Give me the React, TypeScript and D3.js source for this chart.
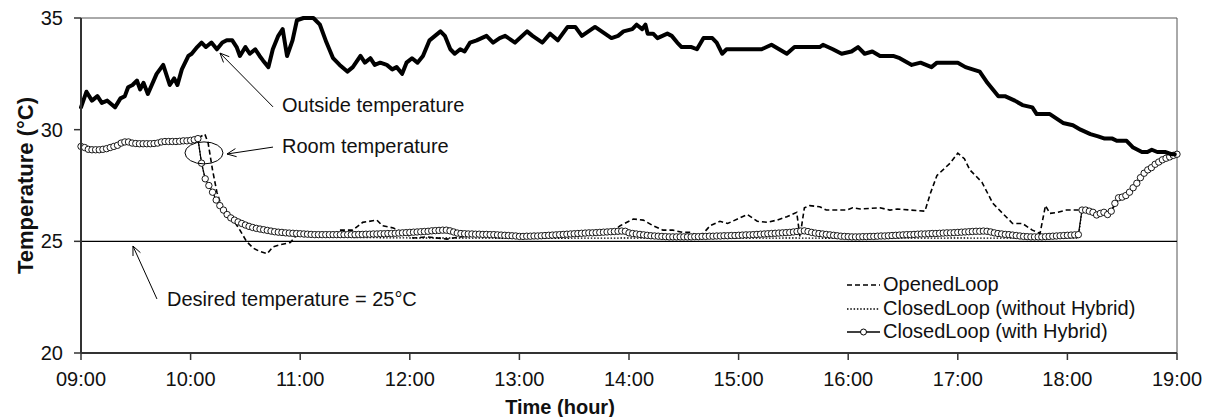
import React from "react";
import * as d3 from "d3";

const W = 1206;
const H = 417;
const margin = { left: 81, right: 29, top: 18, bottom: 64 };
const FONT = "'Liberation Sans', Arial, Helvetica, sans-serif";

// axis ticks
const xTickHours = [9, 10, 11, 12, 13, 14, 15, 16, 17, 18, 19];
const xTickLabels = ["09:00", "10:00", "11:00", "12:00", "13:00", "14:00", "15:00", "16:00", "17:00", "18:00", "19:00"];
const yTicks = [20, 25, 30, 35];
const desiredTemp = 25;

// outside temperature [hour, °C]
const outsideTemp: [number, number][] = [
  [9.0, 31.0], [9.05, 31.7], [9.1, 31.3], [9.15, 31.5], [9.19, 31.2], [9.24, 31.3], [9.31, 31.0], [9.36, 31.4],
  [9.4, 31.5], [9.43, 31.9], [9.47, 32.0], [9.51, 32.2], [9.54, 31.8], [9.57, 32.1], [9.61, 31.6], [9.69, 32.5],
  [9.75, 32.9], [9.81, 32.0], [9.85, 32.3], [9.88, 32.0], [9.92, 32.7], [9.98, 33.3], [10.01, 33.4], [10.06, 33.7],
  [10.1, 33.9], [10.14, 33.7], [10.19, 33.9], [10.24, 33.6], [10.29, 33.9], [10.33, 34.0], [10.38, 34.0], [10.42, 33.7],
  [10.45, 33.3], [10.5, 33.7], [10.54, 33.4], [10.59, 33.6], [10.63, 33.3], [10.66, 33.1], [10.71, 32.8], [10.75, 33.6],
  [10.8, 34.2], [10.84, 34.5], [10.88, 33.3], [10.93, 34.0], [10.97, 34.9], [11.03, 35.0], [11.12, 35.0], [11.18, 34.7],
  [11.24, 33.9], [11.3, 33.2], [11.36, 32.9], [11.43, 32.6], [11.48, 32.8], [11.55, 33.3], [11.59, 33.0], [11.64, 33.2],
  [11.68, 32.9], [11.73, 33.0], [11.79, 32.9], [11.84, 32.7], [11.88, 32.8], [11.93, 32.5], [11.97, 33.0], [12.02, 33.2],
  [12.07, 33.0], [12.12, 33.3], [12.18, 34.0], [12.23, 34.2], [12.28, 34.4], [12.32, 34.2], [12.37, 33.6], [12.41, 33.4],
  [12.46, 33.6], [12.5, 33.5], [12.55, 33.9], [12.61, 34.0], [12.7, 34.2], [12.76, 33.9], [12.82, 34.1], [12.87, 34.2],
  [12.96, 33.9], [13.07, 34.4], [13.12, 34.2], [13.21, 33.9], [13.28, 34.3], [13.35, 34.0], [13.44, 34.6], [13.51, 34.6],
  [13.57, 34.2], [13.69, 34.6], [13.84, 34.1], [13.9, 34.2], [13.95, 34.4], [14.03, 34.5], [14.07, 34.7], [14.12, 34.5],
  [14.15, 34.7], [14.17, 34.3], [14.22, 34.3], [14.26, 34.1], [14.35, 34.3], [14.39, 34.2], [14.44, 33.9], [14.48, 33.7],
  [14.57, 33.7], [14.62, 33.6], [14.68, 34.1], [14.76, 34.1], [14.8, 33.9], [14.85, 33.4], [14.89, 33.6], [15.21, 33.6],
  [15.3, 33.8], [15.44, 33.4], [15.51, 33.7], [15.74, 33.7], [15.77, 33.8], [15.86, 33.6], [15.94, 33.4], [16.03, 33.5],
  [16.09, 33.7], [16.15, 33.4], [16.22, 33.5], [16.29, 33.3], [16.41, 33.3], [16.47, 33.2], [16.58, 32.9], [16.66, 33.0],
  [16.76, 32.8], [16.81, 33.0], [16.93, 33.0], [17.0, 33.0], [17.07, 32.8], [17.2, 32.6], [17.27, 32.1], [17.32, 31.8],
  [17.37, 31.5], [17.43, 31.5], [17.52, 31.3], [17.59, 31.1], [17.68, 31.0], [17.72, 30.7], [17.84, 30.7], [17.96, 30.3],
  [18.05, 30.2], [18.12, 30.0], [18.21, 29.8], [18.28, 29.7], [18.34, 29.6], [18.41, 29.6], [18.45, 29.5], [18.54, 29.5],
  [18.6, 29.2], [18.68, 29.0], [18.73, 29.0], [18.77, 29.1], [18.82, 29.0], [18.89, 29.0], [18.95, 28.9], [18.98, 28.9],
];

// ClosedLoop (with Hybrid), one reading every 2 minutes from 09:00 to 19:00
const hybridStartHour = 9;
const hybridStepMin = 2;
const hybridTemp = [
  29.25, 29.2, 29.12, 29.1, 29.1, 29.1, 29.12, 29.15, 29.2, 29.25, 29.3, 29.4, 29.45, 29.45, 29.4,
  29.38, 29.37, 29.37, 29.37, 29.37, 29.38, 29.4, 29.45, 29.47, 29.47, 29.47, 29.47, 29.48, 29.5, 29.5,
  29.52, 29.55, 29.6, 28.5, 27.8, 27.5, 27.2, 26.85, 26.6, 26.4, 26.2, 26.05, 25.95, 25.87, 25.8,
  25.73, 25.67, 25.62, 25.58, 25.55, 25.52, 25.49, 25.46, 25.43, 25.41, 25.4, 25.38, 25.37, 25.36, 25.35,
  25.34, 25.33, 25.32, 25.31, 25.3, 25.3, 25.3, 25.3, 25.3, 25.3, 25.3, 25.3, 25.3, 25.3, 25.3,
  25.3, 25.31, 25.31, 25.32, 25.32, 25.33, 25.33, 25.34, 25.34, 25.35, 25.35, 25.36, 25.37, 25.38, 25.39,
  25.4, 25.41, 25.42, 25.43, 25.44, 25.45, 25.47, 25.48, 25.49, 25.5, 25.5, 25.47, 25.42, 25.37, 25.35,
  25.34, 25.33, 25.33, 25.32, 25.32, 25.31, 25.31, 25.3, 25.3, 25.29, 25.28, 25.27, 25.26, 25.25, 25.24,
  25.22, 25.22, 25.23, 25.23, 25.24, 25.24, 25.25, 25.26, 25.27, 25.28, 25.29, 25.3, 25.31, 25.32, 25.33,
  25.34, 25.35, 25.36, 25.37, 25.38, 25.38, 25.39, 25.4, 25.41, 25.42, 25.43, 25.44, 25.45, 25.46, 25.45,
  25.38, 25.35, 25.33, 25.31, 25.29, 25.27, 25.25, 25.24, 25.23, 25.22, 25.21, 25.2, 25.2, 25.2, 25.2,
  25.2, 25.2, 25.2, 25.21, 25.21, 25.22, 25.22, 25.23, 25.23, 25.24, 25.24, 25.25, 25.25, 25.26, 25.26,
  25.27, 25.28, 25.29, 25.29, 25.3, 25.31, 25.32, 25.33, 25.34, 25.35, 25.36, 25.37, 25.38, 25.39, 25.4,
  25.42, 25.44, 25.46, 25.47, 25.44, 25.4, 25.37, 25.35, 25.33, 25.31, 25.29, 25.27, 25.25, 25.23, 25.22,
  25.21, 25.2, 25.2, 25.2, 25.21, 25.21, 25.22, 25.22, 25.23, 25.24, 25.24, 25.25, 25.26, 25.27, 25.28,
  25.29, 25.3, 25.3, 25.31, 25.32, 25.33, 25.33, 25.34, 25.35, 25.35, 25.36, 25.37, 25.38, 25.38, 25.39,
  25.4, 25.41, 25.42, 25.43, 25.44, 25.45, 25.45, 25.46, 25.45, 25.42, 25.38, 25.35, 25.33, 25.31, 25.3,
  25.28, 25.26, 25.24, 25.22, 25.21, 25.2, 25.2, 25.2, 25.2, 25.21, 25.22, 25.23, 25.24, 25.25, 25.26,
  25.27, 25.28, 25.29, 25.3, 26.4, 26.4, 26.35, 26.3, 26.18, 26.25, 26.3, 26.2, 26.35, 26.7, 26.95,
  26.98, 27.05, 27.2, 27.4, 27.6, 27.85, 28.05, 28.2, 28.3, 28.45, 28.55, 28.65, 28.72, 28.78, 28.85,
  28.9,
];

// OpenedLoop [hour, °C]
const openedLoop: [number, number][] = [
  [9.0, 29.25], [9.1, 29.1], [9.2, 29.1], [9.35, 29.35], [9.4, 29.45], [9.5, 29.37], [9.7, 29.37], [9.75, 29.47],
  [10.0, 29.52], [10.067, 29.62], [10.13, 29.8], [10.16, 29.4], [10.2, 28.2], [10.24, 27.2], [10.3, 26.3], [10.39, 25.95],
  [10.45, 25.5], [10.51, 25.0], [10.57, 24.7], [10.63, 24.55], [10.7, 24.45], [10.75, 24.75], [10.82, 24.85], [10.91, 24.95],
  [10.97, 25.3], [11.3, 25.3], [11.36, 25.5], [11.48, 25.5], [11.57, 25.85], [11.7, 25.95], [11.75, 25.7], [11.85, 25.6],
  [12.03, 25.15], [12.16, 25.2], [12.34, 25.1], [12.46, 25.2], [12.6, 25.3], [13.0, 25.25], [13.5, 25.3], [13.85, 25.45],
  [13.92, 25.7], [14.04, 26.0], [14.13, 25.95], [14.22, 25.7], [14.31, 25.5], [14.4, 25.5], [14.49, 25.4], [14.56, 25.4],
  [14.65, 25.2], [14.74, 25.7], [14.83, 25.9], [14.9, 25.8], [14.99, 26.0], [15.08, 26.2], [15.17, 25.9], [15.26, 25.85],
  [15.35, 25.95], [15.44, 26.1], [15.53, 26.3], [15.56, 25.2], [15.6, 26.5], [15.65, 26.6], [15.74, 26.55], [15.8, 26.4],
  [15.99, 26.4], [16.04, 26.5], [16.11, 26.45], [16.29, 26.5], [16.38, 26.4], [16.45, 26.45], [16.7, 26.35], [16.75, 27.15],
  [16.81, 27.95], [16.93, 28.5], [17.0, 28.95], [17.06, 28.7], [17.11, 28.2], [17.22, 27.65], [17.32, 26.7], [17.41, 26.25],
  [17.5, 25.8], [17.59, 25.8], [17.68, 25.5], [17.75, 25.35], [17.8, 26.6], [17.84, 26.25], [17.91, 26.3], [17.99, 26.4],
  [18.13, 26.4], [18.2, 26.35], [18.267, 26.2], [18.333, 26.3], [18.4, 26.35], [18.467, 26.95], [18.533, 27.05], [18.6, 27.4],
  [18.667, 27.85], [18.733, 28.2], [18.8, 28.45], [18.867, 28.65], [18.933, 28.78], [19.0, 28.9],
];

// ClosedLoop (without Hybrid) [hour, °C]
const closedLoop: [number, number][] = [
  [9.0, 29.25], [9.1, 29.1], [9.2, 29.1], [9.35, 29.35], [9.4, 29.45], [9.5, 29.37], [9.7, 29.37], [9.75, 29.47],
  [10.0, 29.52], [10.067, 29.6], [10.1, 28.5], [10.133, 27.8], [10.2, 27.2], [10.267, 26.6], [10.333, 26.2], [10.4, 25.95],
  [10.467, 25.8], [10.533, 25.62], [10.6, 25.5], [10.7, 25.38], [10.8, 25.3], [11.0, 25.22], [11.5, 25.17], [12.0, 25.15],
  [12.5, 25.15], [13.0, 25.13], [13.5, 25.14], [14.0, 25.15], [14.5, 25.13], [15.0, 25.14], [15.5, 25.15], [16.0, 25.13],
  [16.5, 25.14], [17.0, 25.15], [17.5, 25.14], [18.0, 25.14], [18.1, 25.15], [18.133, 26.4], [18.2, 26.35], [18.267, 26.2],
  [18.333, 26.3], [18.4, 26.35], [18.467, 26.95], [18.533, 27.05], [18.6, 27.4], [18.667, 27.85], [18.733, 28.2], [18.8, 28.45],
  [18.867, 28.65], [18.933, 28.78], [19.0, 28.9],
];

// annotations: arrow tip / tail and label anchor in data units
const annotations = [
  { text: "Outside temperature", tip: [10.268, 33.43], tail: [10.752, 31.02], label: [10.834, 30.79] },
  { text: "Room temperature", tip: [10.332, 28.91], tail: [10.752, 29.22], label: [10.834, 28.96] },
  { text: "Desired temperature = 25°C", tip: [9.474, 24.79], tail: [9.693, 22.42], label: [9.785, 22.1] },
];
const roomEllipse = [10.122, 28.96];

const legendItems = [
  { name: "OpenedLoop", kind: "dashed" },
  { name: "ClosedLoop (without Hybrid)", kind: "dotted" },
  { name: "ClosedLoop (with Hybrid)", kind: "hybrid" },
];

export default function App() {
  const x = d3.scaleLinear().domain([9, 19]).range([margin.left, W - margin.right]);
  const y = d3.scaleLinear().domain([20, 35]).range([H - margin.bottom, margin.top]);
  const line = d3.line<[number, number]>().x((d) => x(d[0])).y((d) => y(d[1]));

  const hybridPts: [number, number][] = hybridTemp.map((t, i) => [hybridStartHour + (i * hybridStepMin) / 60, t]);

  const x0 = x.range()[0];
  const x1 = x.range()[1];
  const yb = y.range()[0];
  const yt = y.range()[1];

  const arrowHead = (tip: number[], tail: number[]) => {
    const tx = x(tip[0]), ty = y(tip[1]);
    const ang = Math.atan2(y(tail[1]) - ty, x(tail[0]) - tx);
    const len = 10, spread = 0.42;
    const p1 = [tx + len * Math.cos(ang + spread), ty + len * Math.sin(ang + spread)];
    const p2 = [tx + len * Math.cos(ang - spread), ty + len * Math.sin(ang - spread)];
    return `M${p1[0]},${p1[1]}L${tx},${ty}L${p2[0]},${p2[1]}`;
  };

  const legendX = 847;
  const legendY = [291, 315, 338];

  return (
    <svg
      width={W}
      height={H}
      style={{ position: "absolute", left: 0, top: 0, background: "#fff" }}
      fontFamily={FONT}
    >
      <rect x={0} y={0} width={W} height={H} fill="#fff" />
      {/* plot frame */}
      <line x1={x0} x2={x1} y1={yt} y2={yt} stroke="#555" strokeWidth={1} />
      <line x1={x1} x2={x1} y1={yt} y2={yb} stroke="#555" strokeWidth={1} />
      {/* desired temperature line */}
      <line x1={x0} x2={x1} y1={y(desiredTemp)} y2={y(desiredTemp)} stroke="#000" strokeWidth={1.2} />

      {/* series */}
      <path d={line(closedLoop) ?? ""} fill="none" stroke="#000" strokeWidth={1.3} strokeDasharray="1.5,1.8" />
      <path d={line(openedLoop) ?? ""} fill="none" stroke="#000" strokeWidth={1.6} strokeDasharray="5,3" />
      <path d={line(hybridPts) ?? ""} fill="none" stroke="#000" strokeWidth={1.2} />
      {hybridPts.map((d, i) => (
        <circle key={i} cx={x(d[0])} cy={y(d[1])} r={3.2} fill="#fff" stroke="#000" strokeWidth={0.9} />
      ))}
      <path d={line(outsideTemp) ?? ""} fill="none" stroke="#000" strokeWidth={4} strokeLinejoin="round" strokeLinecap="round" />

      {/* axes */}
      <line x1={x0} x2={x0} y1={yt} y2={yb} stroke="#333" strokeWidth={2} />
      <line x1={x0} x2={x1} y1={yb} y2={yb} stroke="#333" strokeWidth={2} />
      {yTicks.map((t) => (
        <g key={t}>
          <line x1={x0 - 7} x2={x0} y1={y(t)} y2={y(t)} stroke="#333" strokeWidth={1.5} />
          <text x={63} y={y(t) + 7} textAnchor="end" fontSize={20} fill="#111">
            {t}
          </text>
        </g>
      ))}
      {xTickHours.map((h, i) => (
        <g key={h}>
          <line x1={x(h)} x2={x(h)} y1={yb} y2={yb + 7} stroke="#333" strokeWidth={1.5} />
          <text x={x(h)} y={386} textAnchor="middle" fontSize={20} fill="#111">
            {xTickLabels[i]}
          </text>
        </g>
      ))}
      <text x={560} y={414} textAnchor="middle" fontSize={20} fontWeight="bold" fill="#111">
        Time (hour)
      </text>
      <text
        transform={`translate(33,${(yt + yb) / 2}) rotate(-90)`}
        textAnchor="middle"
        fontSize={22}
        fontWeight="bold"
        fill="#111"
      >
        Temperature (°C)
      </text>

      {/* annotations */}
      {annotations.map((a) => (
        <g key={a.text}>
          <line x1={x(a.tail[0])} y1={y(a.tail[1])} x2={x(a.tip[0])} y2={y(a.tip[1])} stroke="#000" strokeWidth={1} />
          <path d={arrowHead(a.tip, a.tail)} fill="none" stroke="#000" strokeWidth={1} />
          <text x={x(a.label[0])} y={y(a.label[1])} fontSize={20} fill="#111">
            {a.text}
          </text>
        </g>
      ))}
      <ellipse cx={x(roomEllipse[0])} cy={y(roomEllipse[1])} rx={19} ry={11} fill="none" stroke="#000" strokeWidth={1} />

      {/* legend */}
      {legendItems.map((it, i) => {
        const ly = legendY[i] - 6;
        return (
          <g key={it.name}>
            {it.kind === "dashed" && (
              <line x1={legendX} x2={legendX + 33} y1={ly} y2={ly} stroke="#000" strokeWidth={1.6} strokeDasharray="5,3" />
            )}
            {it.kind === "dotted" && (
              <line x1={legendX} x2={legendX + 33} y1={ly} y2={ly} stroke="#000" strokeWidth={1.3} strokeDasharray="1.5,1.8" />
            )}
            {it.kind === "hybrid" && (
              <g>
                <line x1={legendX} x2={legendX + 33} y1={ly} y2={ly} stroke="#000" strokeWidth={1.6} />
                <circle cx={legendX + 16.5} cy={ly} r={3} fill="#fff" stroke="#000" strokeWidth={1} />
              </g>
            )}
            <text x={legendX + 36} y={legendY[i]} fontSize={20} fill="#111">
              {it.name}
            </text>
          </g>
        );
      })}
    </svg>
  );
}
